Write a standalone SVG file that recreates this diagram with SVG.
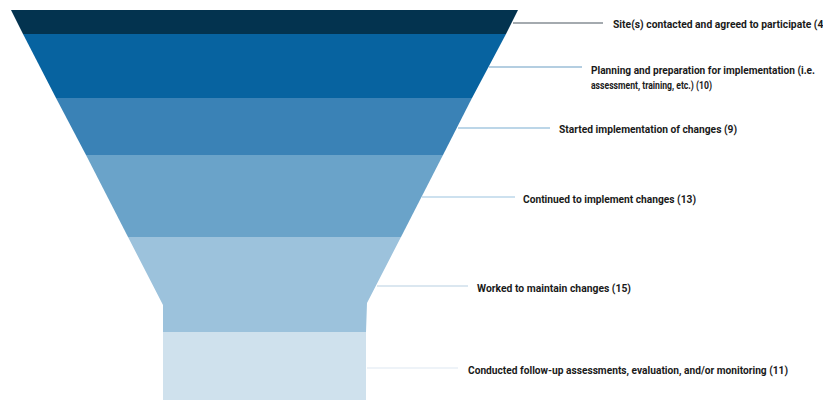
<svg xmlns="http://www.w3.org/2000/svg" width="823" height="400" viewBox="0 0 823 400">
<style>
.lbl{font-family:Roboto,"Liberation Sans",sans-serif;font-size:10px;font-weight:bold;fill:#1a1a1a}
.con{stroke-width:1.2;fill:none}
</style>
<rect width="823" height="400" fill="#ffffff"/>
<g id="stage1"><polygon points="11,10 518,10 506,34 23,34" fill="#03334f"/></g>
<g id="stage2"><polygon points="23,34 506,34 472,98 56,98" fill="#0763a0"/></g>
<g id="stage3"><polygon points="56,98 472,98 443,155 86,155" fill="#3a82b6"/></g>
<g id="stage4"><polygon points="86,155 443,155 401,237 128,237" fill="#6aa3c9"/></g>
<g id="stage5"><polygon points="128,237 401,237 367,303 366,332 163,332 163,305" fill="#9cc2dc"/></g>
<g id="stage6"><rect x="163" y="332" width="203" height="70" fill="#cfe1ed"/></g>
<g id="connectors">
<line class="con" x1="513" y1="23" x2="603" y2="23" stroke="#4a5660"/>
<line class="con" x1="489" y1="67" x2="582" y2="67" stroke="#6b9ec4"/>
<line class="con" x1="458" y1="128" x2="550" y2="128" stroke="#7aaed2"/>
<line class="con" x1="422" y1="197" x2="515" y2="197" stroke="#9cc3df"/>
<line class="con" x1="377" y1="286" x2="468" y2="286" stroke="#b8d0e2"/>
<line class="con" x1="367" y1="368" x2="458" y2="368" stroke="#dde8f1"/>
</g>
<g id="labels">
<text class="lbl" x="613" y="28" textLength="214" lengthAdjust="spacingAndGlyphs">Site(s) contacted and agreed to participate (4)</text>
<text class="lbl" x="591" y="74" textLength="224" lengthAdjust="spacingAndGlyphs">Planning and preparation for implementation (i.e.</text>
<text class="lbl" x="591" y="89" textLength="121" lengthAdjust="spacingAndGlyphs">assessment, training, etc.) (10)</text>
<text class="lbl" x="559" y="133" textLength="178" lengthAdjust="spacingAndGlyphs">Started implementation of changes (9)</text>
<text class="lbl" x="523" y="203" textLength="173" lengthAdjust="spacingAndGlyphs">Continued to implement changes (13)</text>
<text class="lbl" x="477" y="292" textLength="154" lengthAdjust="spacingAndGlyphs">Worked to maintain changes (15)</text>
<text class="lbl" x="468" y="374" textLength="320" lengthAdjust="spacingAndGlyphs">Conducted follow-up assessments, evaluation, and/or monitoring (11)</text>
</g>
</svg>
